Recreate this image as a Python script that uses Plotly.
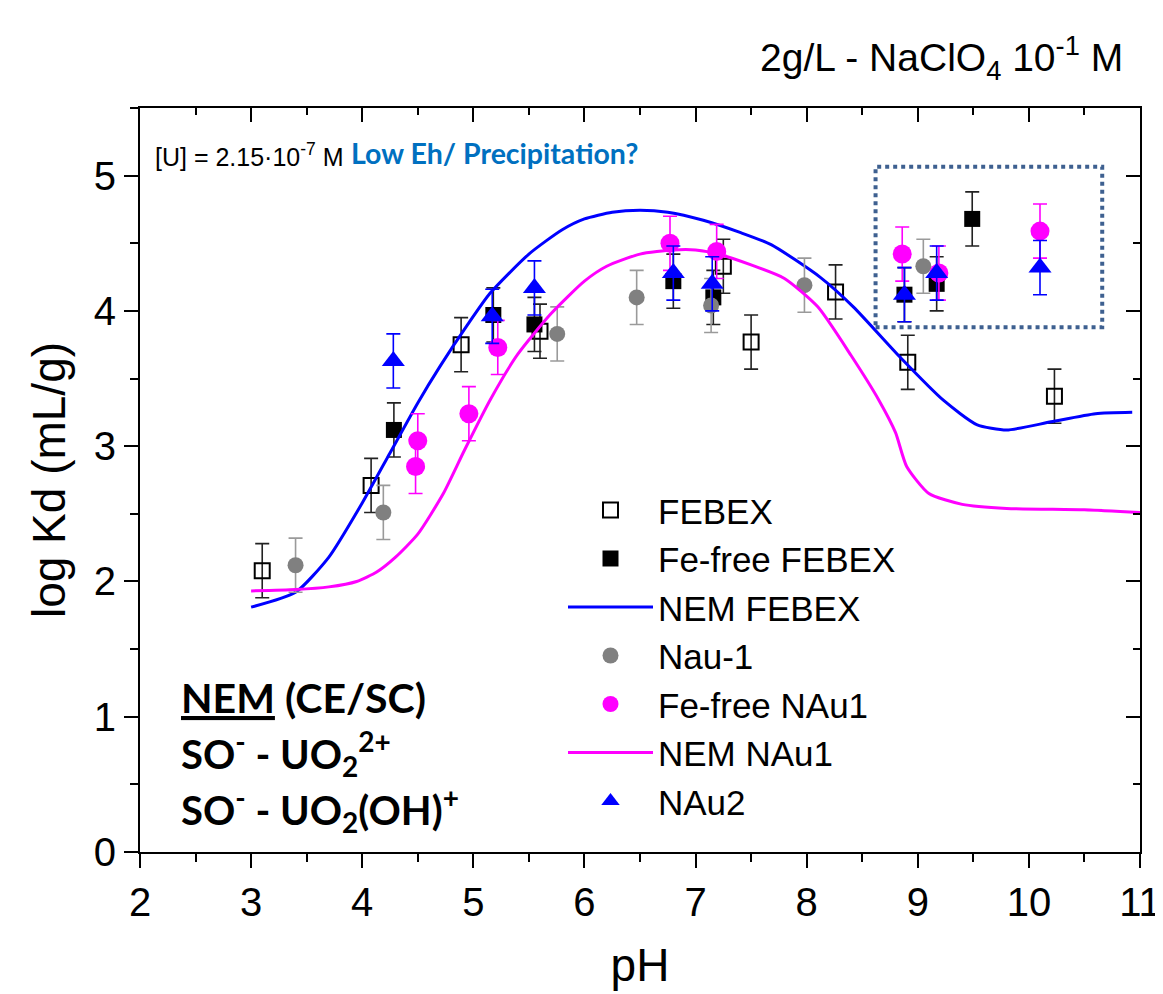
import plotly.graph_objects as go

# ---------------- data ----------------
febex_ph = [3.10, 4.08, 4.89, 5.60, 7.25, 7.50, 8.26, 8.91, 10.23]
febex_kd = [2.08, 2.71, 3.75, 3.85, 4.33, 3.77, 4.14, 3.62, 3.37]
febex_err = [0.2, 0.2, 0.2, 0.2, 0.2, 0.2, 0.2, 0.2, 0.2]

fefree_febex_ph = [4.285, 5.18, 5.55, 6.80, 7.16, 8.88, 9.17, 9.49]
fefree_febex_kd = [3.12, 3.97, 3.90, 4.22, 4.10, 4.12, 4.20, 4.68]
fefree_febex_err = [0.2, 0.2, 0.2, 0.2, 0.2, 0.2, 0.2, 0.2]

nem_febex_ph = [3.0, 3.4, 3.7, 4.0, 4.25, 4.5, 4.7, 4.95, 5.15, 5.5, 5.8, 6.0, 6.25, 6.5,
                6.75, 7.07, 7.4, 7.68, 8.12, 8.42, 8.85, 9.23, 9.53, 9.8, 10.2, 10.6, 10.93]
nem_febex_kd = [1.81, 1.92, 2.18, 2.58, 2.95, 3.32, 3.59, 3.90, 4.13, 4.42, 4.60, 4.68, 4.73, 4.745,
                4.73, 4.67, 4.58, 4.49, 4.25, 4.03, 3.65, 3.34, 3.16, 3.12, 3.18, 3.24, 3.25]

nau1_ph = [3.40, 4.19, 5.755, 6.47, 7.14, 7.98, 9.05]
nau1_kd = [2.12, 2.51, 3.83, 4.10, 4.04, 4.19, 4.33]
nau1_err = [0.2, 0.2, 0.2, 0.2, 0.2, 0.2, 0.2]

fefree_nau1_ph = [4.48, 4.50, 4.96, 5.22, 6.77, 7.19, 8.86, 9.19, 10.10]
fefree_nau1_kd = [2.85, 3.04, 3.24, 3.73, 4.50, 4.44, 4.42, 4.28, 4.59]
fefree_nau1_err = [0.2, 0.2, 0.2, 0.2, 0.2, 0.2, 0.2, 0.2, 0.2]

nem_nau1_ph = [3.0, 3.4, 3.7, 3.95, 4.13, 4.3, 4.5, 4.73, 4.92, 5.15, 5.4, 5.7, 6.0, 6.2, 6.5,
               6.8, 7.0, 7.25, 7.5, 7.8, 8.1, 8.4, 8.65, 8.8, 8.9, 9.1, 9.4, 9.8, 10.5, 11.0]
nem_nau1_kd = [1.93, 1.94, 1.96, 2.00, 2.07, 2.18, 2.35, 2.65, 2.97, 3.34, 3.68, 3.98, 4.22, 4.33, 4.42,
               4.45, 4.45, 4.41, 4.34, 4.24, 4.03, 3.67, 3.34, 3.10, 2.85, 2.65, 2.57, 2.54, 2.53, 2.51]

nau2_ph = [4.28, 5.17, 5.55, 6.80, 7.15, 8.88, 9.17, 10.10]
nau2_kd = [3.63, 3.96, 4.17, 4.28, 4.20, 4.12, 4.28, 4.32]
nau2_err = [0.2, 0.2, 0.2, 0.2, 0.2, 0.2, 0.2, 0.2]

# ---------------- figure ----------------
SANS = "Liberation Sans, Arial, sans-serif"
BOLD = "Lato, Open Sans, sans-serif"

fig = go.Figure()

def err(arr, color):
    return dict(type="data", array=arr, visible=True, color=color, thickness=1.6, width=7)

fig.add_trace(go.Scatter(
    x=febex_ph, y=febex_kd, mode="markers", name="FEBEX",
    marker=dict(symbol="square-open", size=15, color="black", line=dict(width=2, color="black")),
    error_y=err(febex_err, "#222222")))
fig.add_trace(go.Scatter(
    x=fefree_febex_ph, y=fefree_febex_kd, mode="markers", name="Fe-free FEBEX",
    marker=dict(symbol="square", size=16, color="black"),
    error_y=err(fefree_febex_err, "#222222")))
fig.add_trace(go.Scatter(
    x=nem_febex_ph, y=nem_febex_kd, mode="lines", name="NEM FEBEX",
    line=dict(color="#0000FF", width=3, shape="spline", smoothing=0.6)))
fig.add_trace(go.Scatter(
    x=nau1_ph, y=nau1_kd, mode="markers", name="Nau-1",
    marker=dict(symbol="circle", size=16, color="#808080"),
    error_y=err(nau1_err, "#9a9a9a")))
fig.add_trace(go.Scatter(
    x=fefree_nau1_ph, y=fefree_nau1_kd, mode="markers", name="Fe-free NAu1",
    marker=dict(symbol="circle", size=19, color="#FF00FF"),
    error_y=err(fefree_nau1_err, "#FF00FF")))
fig.add_trace(go.Scatter(
    x=nem_nau1_ph, y=nem_nau1_kd, mode="lines", name="NEM NAu1",
    line=dict(color="#FF00FF", width=3, shape="spline", smoothing=0.6)))
fig.add_trace(go.Scatter(
    x=nau2_ph, y=nau2_kd, mode="markers", name="NAu2",
    marker=dict(symbol="triangle-up", size=20, color="#0000FF"),
    error_y=err(nau2_err, "#0000FF")))
# helper trace so the mirrored (top/right) axes are drawn
fig.add_trace(go.Scatter(x=[None], y=[None], xaxis="x2", yaxis="y2",
                         showlegend=False, hoverinfo="skip"))

axis_common = dict(showline=True, linecolor="black", linewidth=2, showgrid=False,
                   zeroline=False, tickcolor="black", tickwidth=2, automargin=False)

# page body adds an 8px offset, so the figure is 8px smaller and margins compensate
fig.update_layout(
    width=1155, height=986,
    margin=dict(l=131.5, r=23, t=100, b=142, autoexpand=False),
    paper_bgcolor="white", plot_bgcolor="white",
    font=dict(family=SANS, color="black"),
    xaxis=dict(range=[2, 11], dtick=1, ticks="outside", ticklen=14,
               minor=dict(dtick=0.5, ticks="outside", ticklen=8, tickcolor="black", tickwidth=2),
               tickfont=dict(size=40, family=SANS),
               title=dict(text="pH", font=dict(size=46, family=SANS), standoff=26),
               **axis_common),
    yaxis=dict(range=[0, 5.5], dtick=1, ticks="outside", ticklen=14,
               minor=dict(dtick=0.5, ticks="outside", ticklen=8, tickcolor="black", tickwidth=2),
               tickfont=dict(size=40, family=SANS),
               title=dict(text="log Kd (mL/g)", font=dict(size=46, family=SANS), standoff=14),
               **axis_common),
    xaxis2=dict(range=[2, 11], dtick=1, overlaying="x", side="top", anchor="y",
                ticks="inside", ticklen=14, showticklabels=False,
                minor=dict(dtick=0.5, ticks="inside", ticklen=7, tickcolor="black", tickwidth=2),
                **axis_common),
    yaxis2=dict(range=[0, 5.5], dtick=1, overlaying="y", side="right", anchor="x",
                ticks="inside", ticklen=14, showticklabels=False,
                minor=dict(dtick=0.5, ticks="inside", ticklen=7, tickcolor="black", tickwidth=2),
                **axis_common),
    legend=dict(x=0.423, y=0.499, xanchor="left", yanchor="top",
                bgcolor="rgba(0,0,0,0)", font=dict(size=35, family=SANS),
                tracegroupgap=0, itemwidth=85),
    showlegend=True,
)

# dotted box
fig.add_shape(type="rect", xref="x", yref="y", x0=8.62, x1=10.66, y0=3.88, y1=5.065,
              line=dict(color="#3E6090", width=4, dash="dot"))

ann = []
ann.append(dict(text="[U] = 2.15·10<sup>-7</sup> M", x=0.013, y=0.937, xref="paper", yref="paper",
                xanchor="left", yanchor="middle", showarrow=False,
                font=dict(size=25, family=SANS, color="black")))
ann.append(dict(text="<b>Low Eh/ Precipitation?</b>", x=0.209, y=0.940, xref="paper", yref="paper",
                xanchor="left", yanchor="middle", showarrow=False,
                font=dict(size=28.5, family=BOLD, color="#0070C0")))
ann.append(dict(text="2g/L - NaClO<sub>4</sub> 10<sup>-1</sup> M", x=0.985, y=1.067,
                xref="paper", yref="paper", xanchor="right", yanchor="middle", showarrow=False,
                font=dict(size=39, family=SANS, color="black")))
ann.append(dict(text="<b><u>NEM</u> (CE/SC)</b>", x=0.039, y=0.207, xref="paper", yref="paper",
                xanchor="left", yanchor="middle", showarrow=False,
                font=dict(size=41, family=BOLD, color="black")))
ann.append(dict(text="<b>SO<sup>-</sup> - UO<sub>2</sub><sup>2+</sup></b>", x=0.039, y=0.133,
                xref="paper", yref="paper", xanchor="left", yanchor="middle", showarrow=False,
                font=dict(size=40, family=BOLD, color="black")))
ann.append(dict(text="<b>SO<sup>-</sup> - UO<sub>2</sub>(OH)<sup>+</sup></b>", x=0.039, y=0.057,
                xref="paper", yref="paper", xanchor="left", yanchor="middle", showarrow=False,
                font=dict(size=40, family=BOLD, color="black")))
fig.update_layout(annotations=ann)

fig.write_html("out.html")
